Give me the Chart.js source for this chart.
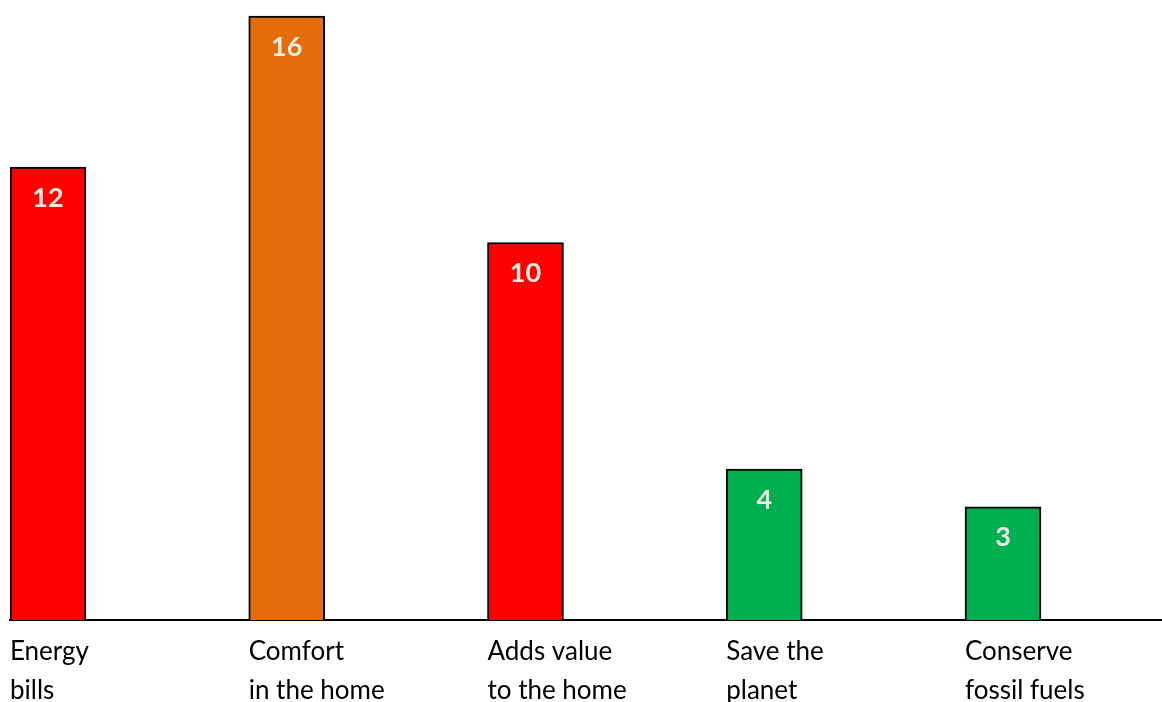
<!DOCTYPE html>
<html>
<head>
<meta charset="utf-8">
<script src="https://cdn.jsdelivr.net/npm/chart.js@4.4.0/dist/chart.umd.min.js"></script>
<style>
  html, body { margin: 0; padding: 0; background: #ffffff; overflow: hidden; }
  #wrap { width: 1162px; height: 702px; overflow: hidden; }
  canvas { display: block; }
</style>
</head>
<body>
<div id="wrap"><canvas id="c" width="1162" height="722"></canvas></div>
<script>
const categories = [["Energy", "bills"], ["Comfort", "in the home"], ["Adds value", "to the home"], ["Save the", "planet"], ["Conserve", "fossil fuels"]];
const values = [12, 16, 10, 4, 3];
const barColors = ["#FF0000", "#E46C0A", "#FF0000", "#00B050", "#00B050"];

const valueLabels = {
  id: 'valueLabels',
  afterDatasetsDraw(chart) {
    const ctx = chart.ctx;
    const meta = chart.getDatasetMeta(0);
    ctx.save();
    ctx.fillStyle = '#EEECE1';
    ctx.font = 'bold 27px Lato, "Open Sans", sans-serif';
    ctx.textAlign = 'center';
    ctx.textBaseline = 'middle';
    meta.data.forEach((bar, i) => {
      ctx.fillText(String(values[i]), bar.x, bar.y + 31);
    });
    ctx.restore();
  }
};

new Chart(document.getElementById('c'), {
  type: 'bar',
  data: {
    datasets: [{
      data: values.map((v, i) => ({ x: i, y: v })),
      backgroundColor: barColors,
      borderColor: '#000000',
      borderWidth: 2,
      borderSkipped: 'bottom',
      barThickness: 76
    }]
  },
  options: {
    responsive: false,
    animation: false,
    devicePixelRatio: 1,
    layout: { padding: { left: 10, right: 0, top: 0, bottom: 0 } },
    plugins: { legend: { display: false }, tooltip: { enabled: false } },
    scales: {
      x: {
        type: 'linear',
        offset: false,
        min: -0.159,
        max: 4.666,
        grid: { display: false, drawTicks: false, offset: false },
        border: { display: true, color: '#000000', width: 2 },
        afterBuildTicks: (axis) => { axis.ticks = categories.map((_, i) => ({ value: i })); },
        ticks: {
          autoSkip: false,
          maxRotation: 0,
          minRotation: 0,
          align: 'start',
          labelOffset: -38,
          padding: 12,
          color: '#000000',
          font: { family: 'Lato, "Open Sans", sans-serif', size: 26, lineHeight: 1.5 },
          callback: (v) => categories[v] || ''
        }
      },
      y: {
        display: false,
        min: 0,
        max: 16.425
      }
    }
  },
  plugins: [valueLabels]
});
</script>
</body>
</html>
